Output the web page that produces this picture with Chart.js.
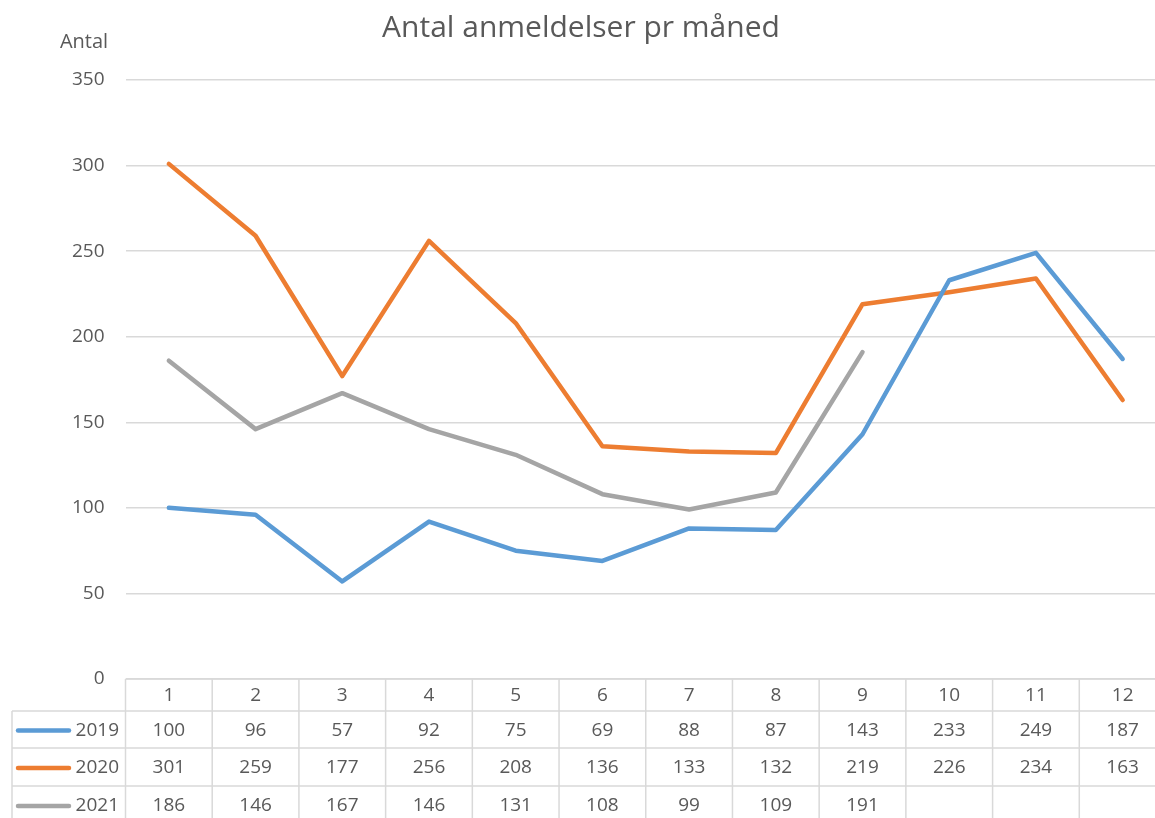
<!DOCTYPE html>
<html><head><meta charset="utf-8">
<script src="https://cdn.jsdelivr.net/npm/chart.js@4"></script>
<style>html,body{margin:0;padding:0;background:#fff;overflow:hidden}#wrap{width:1155px;height:818px;overflow:hidden}</style>
</head><body><div id="wrap"><canvas id="c" width="1172" height="818"></canvas></div>
<script>
const months = ['1','2','3','4','5','6','7','8','9','10','11','12'];
const s2019 = [100,96,57,92,75,69,88,87,143,233,249,187];
const s2020 = [301,259,177,256,208,136,133,132,219,226,234,163];
const s2021 = [186,146,167,146,131,108,99,109,191,null,null,null];
const seriesNames = ['2019','2020','2021'];
const colors = ['#5b9bd5','#ed7d31','#a5a5a5'];
const titleText = 'Antal anmeldelser pr måned';
const yLabel = 'Antal';
const FONT = '"Open Sans", "Noto Sans", sans-serif';
const TXT = '#595959';
const GRID = '#d9d9d9';

const tablePlugin = {
  id: 'tbl',
  afterDraw(chart) {
    const ctx = chart.ctx, x = chart.scales.x, ca = chart.chartArea;
    const rowsY = [ca.bottom, ca.bottom + 32, ca.bottom + 69, ca.bottom + 107, ca.bottom + 145];
    const colW = (ca.right - ca.left) / months.length;
    const leftX = 12;
    ctx.save();
    ctx.strokeStyle = GRID; ctx.lineWidth = 1.5;
    ctx.beginPath();
    ctx.moveTo(ca.left, rowsY[0]); ctx.lineTo(ca.right, rowsY[0]);
    for (let r = 1; r < 4; r++) { ctx.moveTo(leftX, rowsY[r]); ctx.lineTo(ca.right, rowsY[r]); }
    for (let i = 0; i <= months.length; i++) {
      const vx = ca.left + i * colW;
      ctx.moveTo(vx, rowsY[0]); ctx.lineTo(vx, 818);
    }
    ctx.moveTo(leftX, rowsY[1]); ctx.lineTo(leftX, 818);
    ctx.stroke();
    ctx.fillStyle = TXT;
    ctx.font = '19px ' + FONT;
    ctx.textAlign = 'center'; ctx.textBaseline = 'middle';
    months.forEach((m, i) => {
      ctx.fillText(m, x.getPixelForValue(i), (rowsY[0] + rowsY[1]) / 2 + 1);
    });
    const data = [s2019, s2020, s2021];
    data.forEach((arr, r) => {
      const cy = (rowsY[r + 1] + rowsY[r + 2]) / 2 + 1;
      ctx.textAlign = 'center';
      ctx.fillStyle = TXT;
      arr.forEach((v, i) => { if (v !== null) ctx.fillText(String(v), x.getPixelForValue(i), cy); });
      ctx.strokeStyle = colors[r]; ctx.lineWidth = 4.5; ctx.lineCap = 'round';
      ctx.beginPath(); ctx.moveTo(18, cy); ctx.lineTo(69, cy); ctx.stroke();
      ctx.textAlign = 'right';
      ctx.fillText(seriesNames[r], 119, cy);
    });
    ctx.textAlign = 'center';
    ctx.font = '30px ' + FONT;
    ctx.fillText(titleText, 581, 28);
    ctx.font = '20px ' + FONT;
    ctx.fillText(yLabel, 84, 42);
    ctx.restore();
  }
};

new Chart(document.getElementById('c'), {
  type: 'line',
  data: {
    labels: months,
    datasets: [s2019, s2020, s2021].map((d, i) => ({
      label: seriesNames[i], data: d, borderColor: colors[i], backgroundColor: colors[i],
      borderWidth: 4.5, pointRadius: 0, tension: 0, spanGaps: false,
      borderCapStyle: 'round', borderJoinStyle: 'round'
    }))
  },
  options: {
    responsive: false, animation: false, devicePixelRatio: 1,
    layout: { padding: { top: 80, bottom: 139, left: 0, right: 6 } },
    plugins: { legend: { display: false }, title: { display: false }, tooltip: { enabled: false } },
    scales: {
      x: { display: false, offset: true },
      y: {
        min: 0, max: 350,
        ticks: { stepSize: 50, color: TXT, font: { size: 19, family: FONT }, padding: 21 },
        grid: { color: GRID, lineWidth: 1.5, drawTicks: false },
        border: { display: false },
        afterFit(s) { s.width = 125.5; }
      }
    }
  },
  plugins: [tablePlugin]
});
</script></body></html>
